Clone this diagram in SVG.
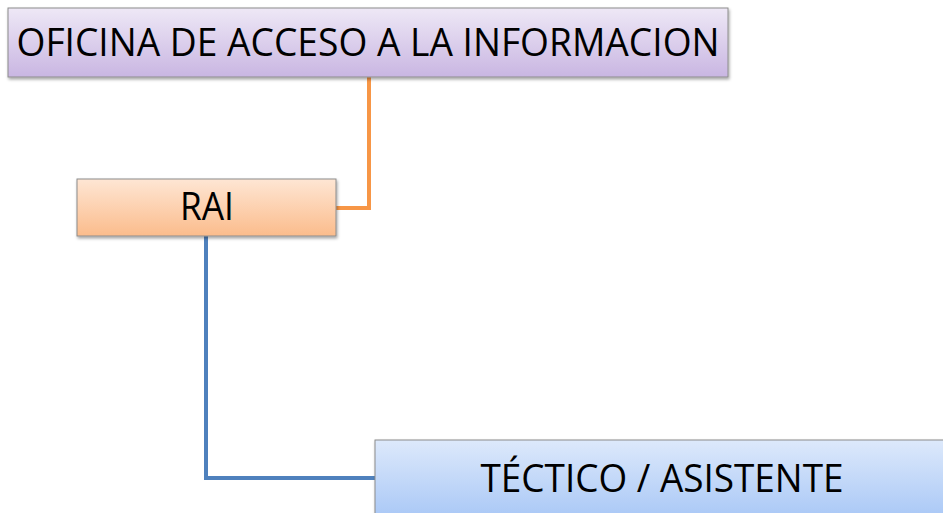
<svg xmlns="http://www.w3.org/2000/svg" width="943" height="513" viewBox="0 0 943 513">
<style>
.box{stroke:#8c8c8c;stroke-width:1}
.lbl{font-family:"Open Sans","Liberation Sans",sans-serif;fill:#000;text-anchor:middle;font-size:38px}
.conn{fill:none;stroke-width:4}
</style>
<defs>
<linearGradient id="gP" x1="0" y1="0" x2="0" y2="1"><stop offset="0" stop-color="#eee8f6"/><stop offset="1" stop-color="#c9b6e2"/></linearGradient>
<linearGradient id="gO" x1="0" y1="0" x2="0" y2="1"><stop offset="0" stop-color="#fee6d4"/><stop offset="1" stop-color="#fbbc8c"/></linearGradient>
<linearGradient id="gB" x1="0" y1="0" x2="0" y2="1"><stop offset="0" stop-color="#dde9fb"/><stop offset="1" stop-color="#a8c7f6"/></linearGradient>
<filter id="sh" x="-5%" y="-10%" width="110%" height="130%"><feDropShadow dx="1" dy="2" stdDeviation="1.5" flood-color="#000" flood-opacity="0.35"/></filter>
</defs>
<g id="connectors">
<path class="conn" d="M369 77 V208 H336" stroke="#f79646"/>
<path class="conn" d="M206 236 V478 H376" stroke="#4f81bd"/>
</g>
<g id="node-oficina">
<rect class="box" x="8" y="8" width="720" height="69" fill="url(#gP)" filter="url(#sh)"/>
<text class="lbl" x="368" y="56" textLength="703" lengthAdjust="spacingAndGlyphs">OFICINA DE ACCESO A LA INFORMACION</text>
</g>
<g id="node-rai">
<rect class="box" x="77" y="179" width="259" height="57" fill="url(#gO)" filter="url(#sh)"/>
<text class="lbl" x="207" y="220" textLength="54" lengthAdjust="spacingAndGlyphs">RAI</text>
</g>
<g id="node-tactico">
<rect class="box" x="375" y="440" width="580" height="80" fill="url(#gB)" filter="url(#sh)"/>
<text class="lbl" x="662" y="492" textLength="363" lengthAdjust="spacingAndGlyphs">TÉCTICO / ASISTENTE</text>
</g>
</svg>
